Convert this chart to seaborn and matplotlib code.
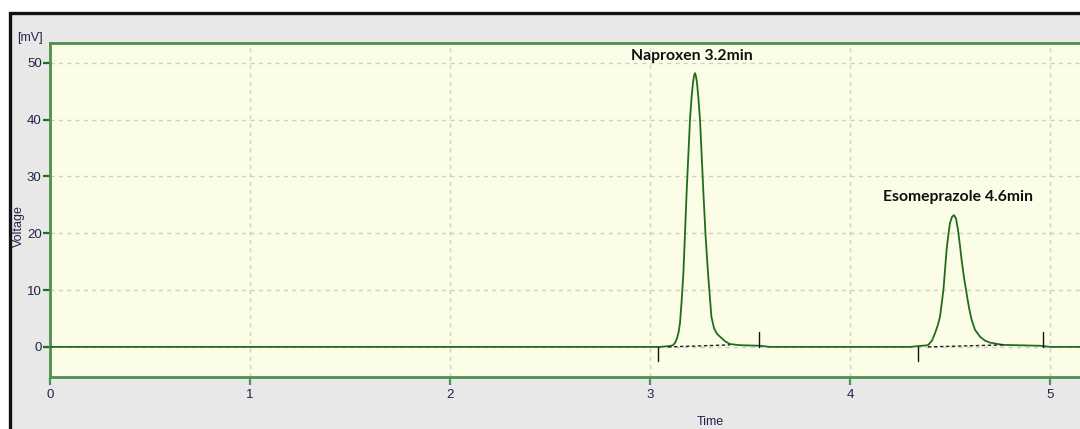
import matplotlib
matplotlib.use("Agg")
import matplotlib.pyplot as plt
from matplotlib.patches import Rectangle
import seaborn as sns
import pandas as pd

# Chromatogram trace: retention time (min) and detector signal (mV)
time_min = [0.00, 3.05, 3.100, 3.115, 3.125, 3.135, 3.143, 3.150, 3.158, 3.167,
            3.175, 3.183, 3.192, 3.200, 3.208, 3.215, 3.220, 3.225, 3.230, 3.235,
            3.242, 3.250, 3.258, 3.267, 3.278, 3.290, 3.300, 3.307, 3.320, 3.335,
            3.350, 3.375, 3.400, 3.450, 3.550, 3.600,
            4.300, 4.390, 4.410, 4.425, 4.438, 4.450, 4.458, 4.467, 4.475, 4.483,
            4.492, 4.500, 4.510, 4.520, 4.530, 4.540, 4.550, 4.558, 4.570, 4.583,
            4.595, 4.608, 4.625, 4.650, 4.675, 4.700, 4.765, 4.950, 5.000, 5.150]
voltage_mv = [0.0, 0.0, 0.15, 0.3, 0.7, 1.5, 2.6, 4.2, 8.0, 13.0,
              20.0, 27.1, 34.0, 40.0, 44.0, 46.5, 47.7, 48.2, 47.6, 46.5,
              43.8, 40.0, 34.0, 27.1, 19.5, 13.0, 8.5, 5.3, 3.3, 2.3,
              1.8, 1.0, 0.5, 0.3, 0.2, 0.0,
              0.0, 0.3, 1.1, 2.4, 3.7, 5.3, 7.5, 10.0, 13.5, 17.1,
              19.8, 21.8, 22.9, 23.2, 22.6, 20.6, 17.8, 15.3, 12.2, 9.4,
              6.9, 4.8, 3.0, 1.8, 1.1, 0.75, 0.35, 0.2, 0.0, 0.0]

# Integrated peaks
peak_names = ["Naproxen 3.2min", "Esomeprazole 4.6min"]
label_t = [3.21, 4.54]
label_y = [49.9, 25.2]
base_start_t = [3.09, 4.39]
base_end_t = [3.40, 4.765]
base_end_v = [0.35, 0.35]
mark_start_t = [3.04, 4.34]
mark_end_t = [3.545, 4.965]

x_ticks = [0, 1, 2, 3, 4, 5]
y_ticks = [0, 10, 20, 30, 40, 50]

sns.set_style("white")
plt.rcParams["font.family"] = ["Liberation Sans", "DejaVu Sans"]

fig = plt.figure(figsize=(10.8, 4.29), dpi=100)
fig.patch.set_facecolor("white")

# Window frame
fig.patches.append(Rectangle((10 / 1080, -0.05), 1.1, 1 - 13 / 429 + 0.05,
                             transform=fig.transFigure, facecolor="#e8e8e8",
                             edgecolor="#111111", linewidth=2.4, zorder=-5))

ax = fig.add_axes([50 / 1080, 1 - 377 / 429, 1.0 - 50 / 1080, 334 / 429])
ax.set_zorder(2)
ax.set_facecolor("#fcfde6")

df = pd.DataFrame({"Time": time_min, "Voltage": voltage_mv})
sns.lineplot(data=df, x="Time", y="Voltage", ax=ax, color="#1f6e1f",
             linewidth=1.3, zorder=4, estimator=None, sort=False)

# Baselines under the peaks and integration markers
for i in range(len(peak_names)):
    ax.plot([base_start_t[i], base_end_t[i]], [0.0, base_end_v[i]],
            linestyle=(0, (2.5, 1.8)), color="#222222", linewidth=1.0, zorder=5)
    ax.plot([mark_start_t[i], mark_start_t[i]], [0, -2.5], color="#111111",
            linewidth=1.0, zorder=5)
    ax.plot([mark_end_t[i], mark_end_t[i]], [0, 2.6], color="#111111",
            linewidth=1.0, zorder=5)
    ax.text(label_t[i], label_y[i], peak_names[i], ha="center",
            va="bottom", fontsize=11.3, fontweight="bold", color="#111111",
            family=["Lato", "DejaVu Sans"], zorder=6)

ax.set_xlim(0, 5.15)
ax.set_ylim(-5.3, 53.5)
ax.set_xticks(x_ticks)
ax.set_yticks(y_ticks)
ax.set_xticklabels([str(v) for v in x_ticks])
ax.set_yticklabels([str(v) for v in y_ticks])

ax.grid(True, color="#cdcdcd", linestyle=(0, (3, 3)), linewidth=1.0, zorder=1)
ax.set_axisbelow(True)

spine_green = "#4f8f4f"
for side in ["left", "top", "bottom"]:
    ax.spines[side].set_visible(True)
    ax.spines[side].set_color(spine_green)
    ax.spines[side].set_linewidth(2.0)
ax.spines["right"].set_visible(False)

ax.tick_params(axis="y", direction="out", length=5, width=1.6, color="#1f6e1f",
               labelsize=9.5, labelcolor="#22224a", pad=1, left=True)
ax.tick_params(axis="x", direction="out", length=6, width=1.6, color=spine_green,
               labelsize=9.5, labelcolor="#22224a", pad=2.5, bottom=True)

ax.set_xlabel("")
ax.set_ylabel("")
fig.text(710 / 1080, 1 - 422 / 429, "Time", ha="center", va="center",
         fontsize=9, color="#22224a")
fig.text(18.5 / 1080, 1 - 226 / 429, "Voltage", ha="center", va="center",
         rotation=90, fontsize=9, color="#22224a")
fig.text(30 / 1080, 1 - 38 / 429, "[mV]", ha="center", va="center",
         fontsize=9, color="#22224a")

fig.savefig("out.png", dpi=100, facecolor="white")
